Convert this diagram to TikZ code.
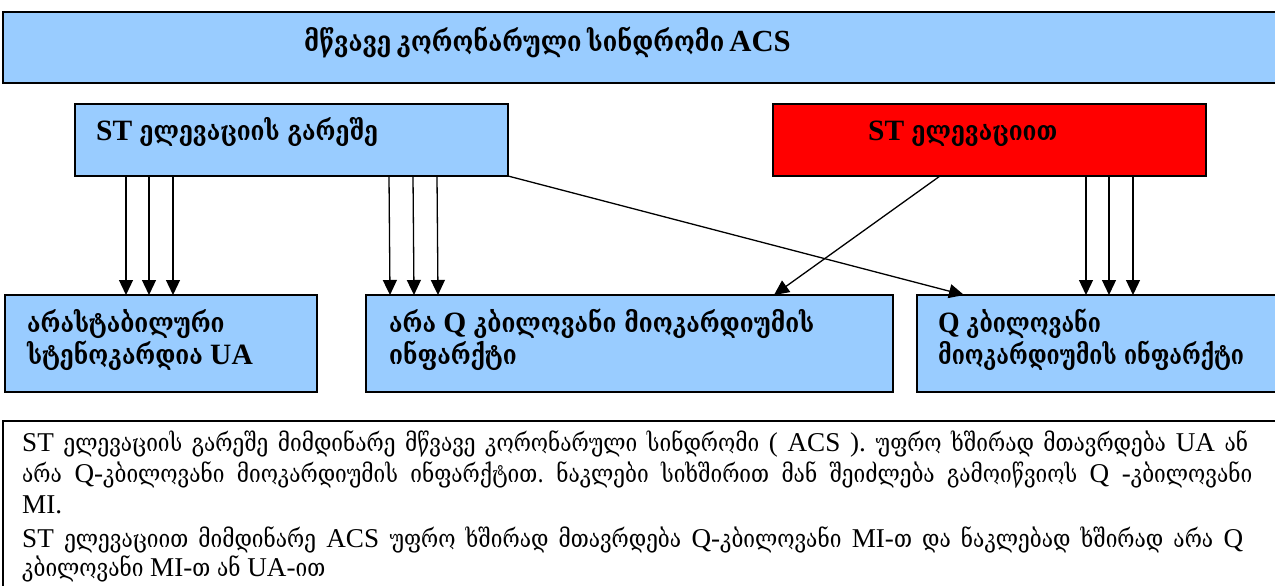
\documentclass[tikz,border=0pt]{standalone}
\usepackage{fontspec}
\setmainfont[Scale=1.18]{Liberation Serif}
\newfontfamily\geo[Scale=1.08, FakeStretch=0.84]{DejaVu Serif}
\usetikzlibrary{arrows.meta}
\definecolor{paleblue}{HTML}{99CCFF}
\definecolor{alarmred}{HTML}{FF0000}
\newcommand{\ka}[1]{{\geo #1}}
\newcommand{\narrow}[1]{\scalebox{0.94}[1]{#1}}
\tikzset{
  panel/.style={draw, line width=1.3pt, fill=paleblue, inner sep=0pt, outer sep=0pt, anchor=north west},
  heavy/.style={line width=2.2pt},
  lbl/.style={anchor=base west, inner sep=0pt, font=\fontsize{25}{28}\selectfont\bfseries},
  para/.style={anchor=base west, inner sep=0pt, font=\fontsize{23}{26}\selectfont},
  arr/.style={line width=1.3pt, -{Triangle[length=15pt, width=14pt]}}
}
\begin{document}
\begin{tikzpicture}[x=1pt, y=-1pt]
\useasboundingbox (0,0) rectangle (1275,586);

% boxes
\node[panel, heavy, minimum width=1290pt, minimum height=71pt] (top) at (3,12) {};
\node[panel, minimum width=433pt, minimum height=72pt] (stno) at (75,104) {};
\node[panel, fill=alarmred, minimum width=433pt, minimum height=72pt] (stel) at (773,104) {};
\node[panel, minimum width=312pt, minimum height=97pt] (ua) at (5,295) {};
\node[panel, minimum width=527pt, minimum height=97pt] (nq) at (366,295) {};
\node[panel, minimum width=380pt, minimum height=97pt] (q) at (917,295) {};
\node[panel, heavy, fill=white, minimum width=1290pt, minimum height=200pt] (note) at (3,421) {};

% box labels
\node[lbl, font=\fontsize{26}{29}\selectfont\bfseries] (ttop) at (304,52)
  {\makebox[466pt][s]{\ka{მწვავე  კორონარული  სინდრომი} ACS}};
\node[lbl] (tstno) at (96,140) {ST \ka{ელევაციის  გარეშე}};
\node[lbl] (tstel) at (868,140) {ST \ka{ელევაციით}};
\node[lbl] (tua1) at (27,332) {\ka{არასტაბილური}};
\node[lbl] (tua2) at (27,364) {\ka{სტენოკარდია}  UA};
\node[lbl] (tnq1) at (389,332) {\ka{არა} Q \ka{კბილოვანი  მიოკარდიუმის}};
\node[lbl] (tnq2) at (389,364) {\ka{ინფარქტი}};
\node[lbl] (tq1) at (938,332) {\narrow{Q \ka{კბილოვანი}}};
\node[lbl] (tq2) at (938,364) {\narrow{\ka{მიოკარდიუმის  ინფარქტი}}};

% explanatory text
\node[para] (n1) at (22,451) {\makebox[1226pt][s]{ST \ka{ელევაციის გარეშე  მიმდინარე მწვავე კორონარული სინდრომი} ( ACS ). \ka{უფრო ხშირად მთავრდება} UA \ka{ან}}};
\node[para] (n2) at (22,482) {\makebox[1230pt][s]{\ka{არა} Q-\ka{კბილოვანი მიოკარდიუმის ინფარქტით.\ ნაკლები სიხშირით მან შეიძლება გამოიწვიოს} Q -\ka{კბილოვანი}}};
\node[para] (n3) at (22,513) {MI.};
\node[para] (n4) at (22,547) {\makebox[1221pt][s]{ST \ka{ელევაციით მიმდინარე} ACS \ka{უფრო ხშირად მთავრდება} Q-\ka{კბილოვანი} MI-\ka{თ და ნაკლებად ხშირად არა} Q}};
\node[para] (n5) at (22,576) {\ka{კბილოვანი} MI-\ka{თ  ან} UA-\ka{ით}};

% connectors
\foreach \a/\b in {51/121, 74/144, 98/168}
  \draw[arr] ([xshift=\a pt]stno.south west) -- ([xshift=\b pt]ua.north west);
\foreach \a/\b in {314/24, 338/48, 362/72}
  \draw[arr] ([xshift=\a pt]stno.south west) -- ([xshift=\b pt]nq.north west);
\foreach \a/\b in {313/169, 336/192, 360/216}
  \draw[arr] ([xshift=\a pt]stel.south west) -- ([xshift=\b pt]q.north west);
\draw[arr] (stno.south east) -- ([xshift=47pt]q.north west);
\draw[arr] ([xshift=167pt]stel.south west) -- ([xshift=408pt]nq.north west);
\end{tikzpicture}
\end{document}
